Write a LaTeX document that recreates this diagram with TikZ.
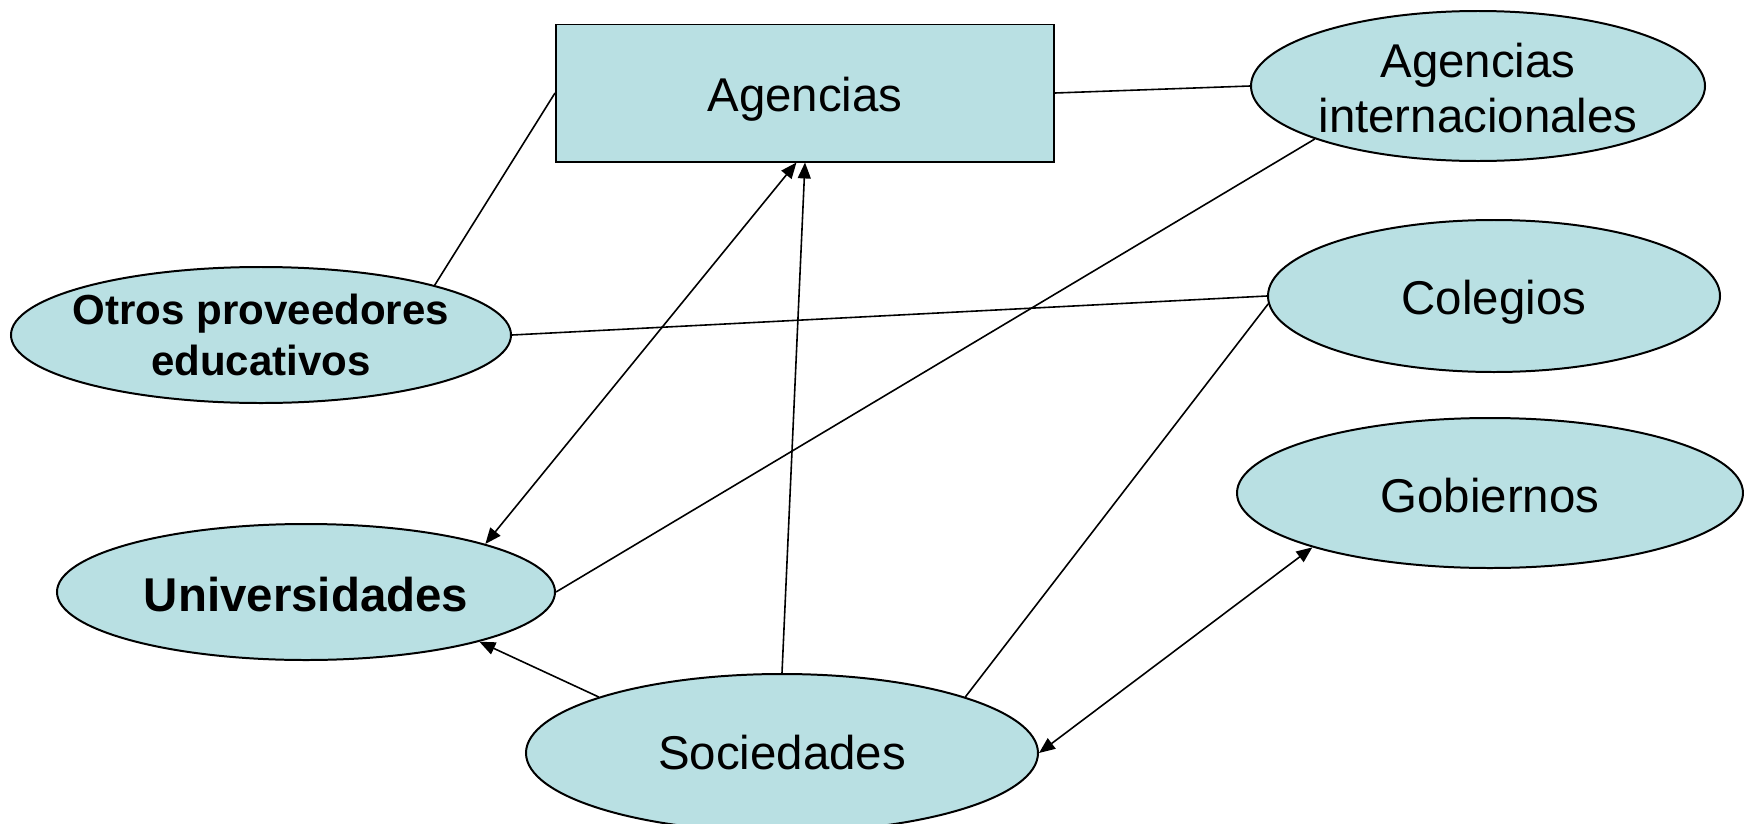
\documentclass[tikz,border=0pt]{standalone}
\usepackage{fontspec}
\setmainfont{Liberation Sans}
\usetikzlibrary{arrows.meta,shapes.geometric}

\definecolor{ovalfill}{RGB}{185,224,227}

\tikzset{
  oval/.style={ellipse, draw, line width=1pt, fill=ovalfill, inner sep=0pt},
  box/.style={rectangle, draw, line width=1pt, fill=ovalfill, inner sep=0pt},
  lbl/.style={align=center, font=\fontsize{23.8}{27.3}\selectfont},
  lblb/.style={align=center, font=\fontsize{23.8}{27.3}\selectfont\bfseries},
}

\begin{document}
\begin{tikzpicture}[x=0.5bp, y=-0.5bp, line width=0.8pt, >={Triangle[length=8pt,width=6.5pt]}]
  \clip (0,0) rectangle (1744,824);

  \node[box, minimum width=249bp, minimum height=68.5bp] (ag) at (805,93) {};
  \node[oval, minimum width=227bp, minimum height=75bp] (agint) at (1478,86) {};
  \node[oval, minimum width=226bp, minimum height=76bp] (col) at (1494,296) {};
  \node[oval, minimum width=253bp, minimum height=75bp] (gob) at (1490,493) {};
  \node[oval, minimum width=250bp, minimum height=68bp] (otros) at (261,335) {};
  \node[oval, minimum width=249bp, minimum height=68bp] (univ) at (306,592) {};
  \node[oval, minimum width=256bp, minimum height=79bp] (soc) at (782,753) {};

  \node[lbl, yshift=-3bp] (agT) at (ag) {Agencias};
  \node[lbl, yshift=-1bp] (agintT) at (agint) {Agencias\\internacionales};
  \node[lbl, yshift=-3bp] (colT) at (col) {Colegios};
  \node[lbl, yshift=-1.5bp] (gobT) at (gob) {Gobiernos};
  \node[lblb, font=\fontsize{21.1}{25.6}\selectfont\bfseries] (otrosT) at (otros) {Otros proveedores\\educativos};
  \node[lblb, yshift=-1.5bp] (univT) at (univ) {Universidades};
  \node[lbl] (socT) at (soc) {Sociedades};

  \draw (otros.16) -- (ag.west);
  \draw (ag.east) -- (agint.west);
  \draw (agint.198) -- (univ.east);
  \draw (otros.east) -- (col.west);
  \draw (col.182) -- (soc.17);

  \draw[<->] (ag.263) -- (univ.15);
  \draw[->] (soc.north) -- (ag.south);
  \draw[->] (soc.163) -- (univ.344);
  \draw[<->] (gob.197) -- (soc.east);

\end{tikzpicture}
\end{document}
